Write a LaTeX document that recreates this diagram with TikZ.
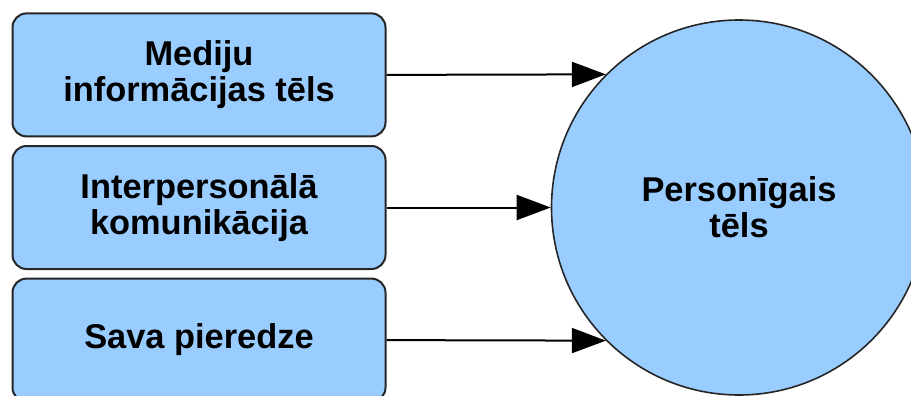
\documentclass[tikz,border=0pt]{standalone}
\usepackage{fontspec}
\setmainfont{Liberation Sans}
\usetikzlibrary{arrows.meta}
\definecolor{lightblue}{HTML}{99CCFF}

\begin{document}
\begin{tikzpicture}[x=0.5pt, y=-0.5pt,
  txt/.style={font=\bfseries\fontsize{17.2}{17.8}\selectfont, align=center},
  srcbox/.style={txt, draw=black!85, line width=1pt, fill=lightblue, rounded corners=7pt,
    minimum width=186.5pt, minimum height=61.5pt, inner sep=0pt},
  bigcircle/.style={txt, circle, draw=black!85, line width=0.8pt, fill=lightblue,
    minimum size=187.5pt, inner sep=0pt},
  flow/.style={line width=1pt, -{Triangle[length=17pt,width=12.5pt]}}]
\useasboundingbox (0,0) rectangle (911,396);

\node[bigcircle] (pers) at (739,207.5) {Personīgais\\tēls};

\node[srcbox] (media) at (199,74.9) {Mediju\\informācijas tēls};
\node[srcbox] (inter) at (199,207.5) {Interpersonālā\\komunikācija};
\node[srcbox] (pier) at (199,340.1) {Sava pieredze};

\draw[flow] (media.east) -- (pers.135);
\draw[flow] (inter.east) -- (pers.west);
\draw[flow] (pier.east) -- (pers.225);
\end{tikzpicture}
\end{document}
